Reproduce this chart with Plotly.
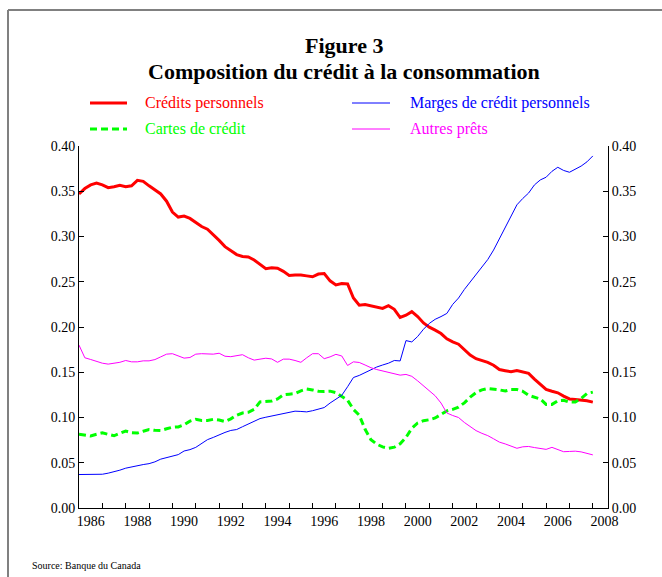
import plotly.graph_objects as go

# ---------------- data (quarterly, 1986Q1 .. 2008Q1) ----------------
start_year = 1986.0
step = 0.25

credits_personnels = [
    0.347, 0.353, 0.357, 0.359, 0.357, 0.354, 0.355, 0.3565, 0.355, 0.356,
    0.362, 0.361, 0.356, 0.351, 0.347, 0.339, 0.327, 0.3215, 0.3225, 0.320,
    0.315, 0.311, 0.308, 0.302, 0.2957, 0.2888, 0.284, 0.280, 0.278, 0.2774,
    0.274, 0.269, 0.2645, 0.2655, 0.265, 0.2615, 0.257, 0.2575, 0.2575, 0.2565,
    0.2555, 0.2585, 0.259, 0.251, 0.2465, 0.248, 0.2475, 0.232, 0.224, 0.2248,
    0.2235, 0.2215, 0.2205, 0.2235, 0.2196, 0.2105, 0.213, 0.217, 0.2115, 0.2045,
    0.1998, 0.1965, 0.1928, 0.187, 0.1835, 0.181, 0.175, 0.169, 0.165, 0.1634,
    0.161, 0.1578, 0.153, 0.1517, 0.1505, 0.1518, 0.150, 0.1488, 0.1425, 0.1365,
    0.131, 0.129, 0.1273, 0.1237, 0.1205, 0.120, 0.1195, 0.1184, 0.117,
]

marges_credit = [
    0.037, 0.0372, 0.0372, 0.0372, 0.0373, 0.0385, 0.0398, 0.0418, 0.044, 0.0455,
    0.0468, 0.048, 0.049, 0.051, 0.054, 0.0555, 0.057, 0.059, 0.063, 0.0645,
    0.067, 0.0712, 0.0755, 0.078, 0.081, 0.0835, 0.0857, 0.0867, 0.0898, 0.0927,
    0.0955, 0.0988, 0.1003, 0.1017, 0.1036, 0.1048, 0.1063, 0.107, 0.1067, 0.1062,
    0.1075, 0.109, 0.111, 0.116, 0.1205, 0.1245, 0.134, 0.1442, 0.1465, 0.1495,
    0.153, 0.1558, 0.158, 0.160, 0.163, 0.1625, 0.185, 0.1835, 0.1895, 0.1975,
    0.204, 0.2085, 0.2115, 0.215, 0.225, 0.232, 0.2415, 0.2498, 0.2575, 0.2667,
    0.2745, 0.285, 0.2975, 0.310, 0.3228, 0.335, 0.342, 0.348, 0.357, 0.3625,
    0.3655, 0.372, 0.3765, 0.373, 0.371, 0.374, 0.3778, 0.3825, 0.389,
]

cartes_credit = [
    0.0815, 0.0805, 0.0795, 0.0815, 0.083, 0.0814, 0.0798, 0.0825, 0.085, 0.0832,
    0.0828, 0.0848, 0.0866, 0.0858, 0.0855, 0.0875, 0.0892, 0.0896, 0.092, 0.096,
    0.098, 0.0968, 0.0968, 0.098, 0.0972, 0.0955, 0.0985, 0.1025, 0.105, 0.1058,
    0.109, 0.1172, 0.118, 0.1182, 0.1205, 0.125, 0.1258, 0.1265, 0.1295, 0.1315,
    0.1305, 0.129, 0.1288, 0.1291, 0.1275, 0.1235, 0.119, 0.109, 0.1025, 0.087,
    0.0755, 0.0705, 0.0675, 0.066, 0.0672, 0.071, 0.078, 0.088, 0.094, 0.0965,
    0.0975, 0.0995, 0.103, 0.1073, 0.109, 0.1115, 0.1162, 0.1225, 0.1275, 0.1305,
    0.132, 0.1315, 0.1305, 0.1292, 0.131, 0.131, 0.129, 0.1245, 0.1225, 0.1205,
    0.1145, 0.1145, 0.1185, 0.119, 0.117, 0.117, 0.121, 0.1265, 0.128,
]

autres_prets = [
    0.180, 0.166, 0.1641, 0.162, 0.160, 0.159, 0.1596, 0.161, 0.163, 0.1615,
    0.1615, 0.1626, 0.1626, 0.164, 0.167, 0.170, 0.1705, 0.168, 0.1656, 0.1663,
    0.170, 0.1705, 0.170, 0.170, 0.171, 0.1677, 0.1672, 0.168, 0.1694, 0.166,
    0.1634, 0.1645, 0.1655, 0.1647, 0.161, 0.1645, 0.1645, 0.163, 0.161, 0.166,
    0.1705, 0.1705, 0.165, 0.167, 0.1698, 0.168, 0.1575, 0.1615, 0.1608, 0.158,
    0.155, 0.153, 0.1515, 0.1505, 0.1485, 0.1468, 0.1476, 0.1455, 0.1405, 0.135,
    0.130, 0.124, 0.116, 0.105, 0.1022, 0.100, 0.0945, 0.0895, 0.0855, 0.0825,
    0.080, 0.0765, 0.0728, 0.0708, 0.0685, 0.066, 0.0676, 0.068, 0.0668, 0.0658,
    0.0648, 0.067, 0.0645, 0.0622, 0.0625, 0.0628, 0.062, 0.0603, 0.0587,
]

x_years = [start_year + i * step for i in range(len(credits_personnels))]

year_labels = [str(y) for y in range(1986, 2009, 2)]
year_label_pos = [y + 0.5 for y in range(1986, 2009, 2)]
year_ticks = list(range(1987, 2009))
y_ticks = [0.0, 0.05, 0.10, 0.15, 0.20, 0.25, 0.30, 0.35, 0.40]
y_ticktext = ["0.00", "0.05", "0.10", "0.15", "0.20", "0.25", "0.30", "0.35", "0.40"]

series_names = ["Crédits personnels", "Cartes de crédit",
                "Marges de crédit personnels", "Autres prêts"]

# ---------------- layout geometry ----------------
W, H = 662, 577
ML, MR, MT, MB = 79, 54, 146, 69
PW = W - ML - MR
PH = H - MT - MB


def px(xp):
    return (xp - ML) / PW


def py(yp):
    return (H - MB - yp) / PH


FONT = "Liberation Serif, Times New Roman, serif"
RED, GREEN, BLUE, MAG = "#FF0000", "#00FF00", "#0000FF", "#FF00FF"

fig = go.Figure()
fig.add_trace(go.Scatter(x=x_years, y=credits_personnels, mode="lines",
                         line=dict(color=RED, width=3), name=series_names[0],
                         showlegend=False))
fig.add_trace(go.Scatter(x=x_years, y=cartes_credit, mode="lines",
                         line=dict(color=GREEN, width=3, dash="7px,4px"),
                         name=series_names[1], showlegend=False))
fig.add_trace(go.Scatter(x=x_years, y=marges_credit, mode="lines",
                         line=dict(color=BLUE, width=1), name=series_names[2],
                         showlegend=False, yaxis="y2"))
fig.add_trace(go.Scatter(x=x_years, y=autres_prets, mode="lines",
                         line=dict(color=MAG, width=1), name=series_names[3],
                         showlegend=False, yaxis="y2"))

yaxis_common = dict(range=[0, 0.40], tickmode="array", tickvals=y_ticks,
                    ticktext=y_ticktext, ticks="inside", ticklen=5,
                    tickcolor="black", showline=True, linecolor="black",
                    linewidth=1, showgrid=False, zeroline=False,
                    tickfont=dict(family=FONT, size=14, color="black"))

fig.update_layout(
    width=W, height=H,
    margin=dict(l=ML, r=MR, t=MT, b=MB, pad=0),
    paper_bgcolor="white", plot_bgcolor="white",
    font=dict(family=FONT, color="black"),
    xaxis=dict(range=[1986, 2008.65], tickmode="array", tickvals=year_label_pos,
               ticktext=year_labels, ticks="", showline=True, linecolor="black",
               linewidth=1, showgrid=False, zeroline=False,
               tickfont=dict(family=FONT, size=14, color="black"),
               minor=dict(tickmode="array", tickvals=year_ticks, ticks="inside",
                          ticklen=5, tickcolor="black", showgrid=False)),
    yaxis=dict(side="left", **yaxis_common),
    yaxis2=dict(side="right", overlaying="y", **yaxis_common),
    showlegend=False,
)

# titles
fig.add_annotation(x=0.5, y=py(45), xref="paper", yref="paper",
                   text="<b>Figure 3</b>", showarrow=False,
                   font=dict(family=FONT, size=22, color="black"), yanchor="middle")
fig.add_annotation(x=0.5, y=py(72), xref="paper", yref="paper",
                   text="<b>Composition du crédit à la consommation</b>", showarrow=False,
                   font=dict(family=FONT, size=22, color="black"), yanchor="middle")

# legend (manual)
legend_items = [
    (series_names[0], RED, 3, "solid", 90, 127, 143, 103),
    (series_names[1], GREEN, 3, "dash", 90, 127, 143, 129),
    (series_names[2], BLUE, 1, "solid", 352, 390, 408, 103),
    (series_names[3], MAG, 1, "solid", 352, 390, 408, 129),
]
for name, col, w, dash, x0, x1, xt, yy in legend_items:
    fig.add_shape(type="line", xref="paper", yref="paper",
                  x0=px(x0), x1=px(x1), y0=py(yy), y1=py(yy),
                  line=dict(color=col, width=w,
                            dash="7px,4px" if dash == "dash" else "solid"))
    fig.add_annotation(x=px(xt), y=py(yy), xref="paper", yref="paper",
                       text=name, showarrow=False, xanchor="left", yanchor="middle",
                       font=dict(family=FONT, size=16, color=col))

# source
fig.add_annotation(x=px(30), y=py(565), xref="paper", yref="paper",
                   text="Source: Banque du Canada", showarrow=False,
                   xanchor="left", yanchor="middle",
                   font=dict(family=FONT, size=10, color="black"))

# frame lines (top and left)
fig.add_shape(type="line", xref="paper", yref="paper",
              x0=px(8), x1=px(662), y0=py(10), y1=py(10),
              line=dict(color="#808080", width=2))
fig.add_shape(type="line", xref="paper", yref="paper",
              x0=px(8), x1=px(8), y0=py(10), y1=py(577),
              line=dict(color="#808080", width=2))

fig.write_html(
    "out.html",
    config={"displayModeBar": False},
    post_script="document.body.style.margin='0';document.body.style.overflow='hidden';",
)
